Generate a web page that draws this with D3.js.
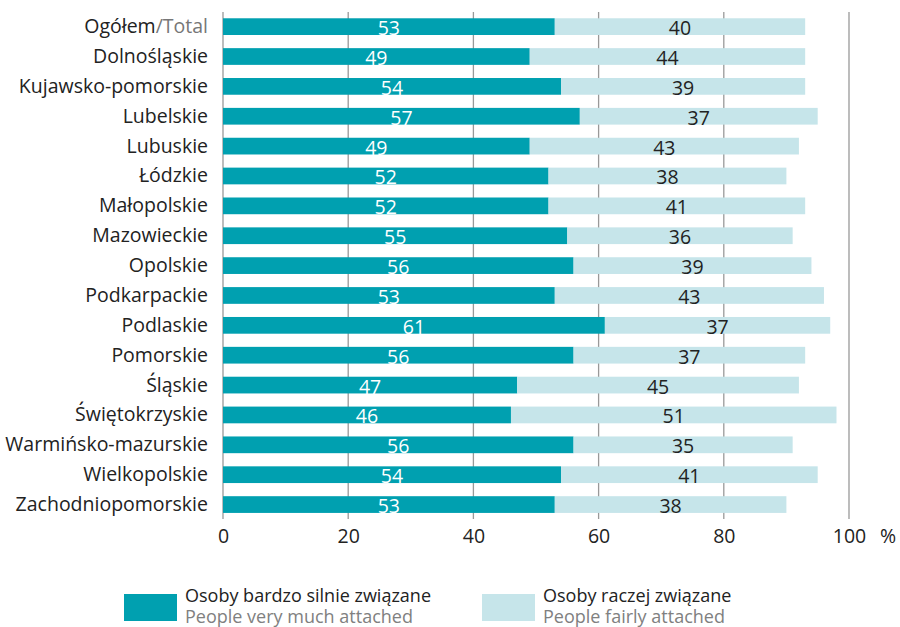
<!DOCTYPE html>
<html><head><meta charset="utf-8">
<script src="https://cdn.jsdelivr.net/npm/d3@7"></script>
<style>body{margin:0;background:#fff}svg{display:block}</style>
</head><body>
<svg id="c" width="900" height="627"></svg>
<script>
const categories = ["Ogółem/Total","Dolnośląskie","Kujawsko-pomorskie","Lubelskie","Lubuskie","Łódzkie","Małopolskie","Mazowieckie","Opolskie","Podkarpackie","Podlaskie","Pomorskie","Śląskie","Świętokrzyskie","Warmińsko-mazurskie","Wielkopolskie","Zachodniopomorskie"];
// "Osoby bardzo silnie związane / People very much attached" (%)
const veryMuch = [53,49,54,57,49,52,52,55,56,53,61,56,47,46,56,54,53];
// "Osoby raczej związane / People fairly attached" — segment lengths as drawn (%)
const fairly   = [40,44,39,38,43,38,41,36,38,43,36,37,45,52,35,41,37];
// values printed on the light segments
const fairlyLabels = [40,44,39,37,43,38,41,36,39,43,37,37,45,51,35,41,38];
const ticks = [0,20,40,60,80,100];
const seriesNames = [["Osoby bardzo silnie związane","People very much attached"],["Osoby raczej związane","People fairly attached"]];

const FONT = "'Open Sans', sans-serif";
const FS = 19.5;
const dark = "#00a0b0", light = "#c6e5ea";
const svg = d3.select("#c");
const x = d3.scaleLinear().domain([0,100]).range([223,849]);
const y = d3.scaleBand().domain(categories).range([12.6,518.6]).paddingInner(0.44).paddingOuter(0.19);

svg.append("g").selectAll("line").data(ticks).join("line")
  .attr("x1",d=>x(d)).attr("x2",d=>x(d)).attr("y1",12).attr("y2",519)
  .attr("stroke","#999").attr("stroke-width",1.3);

const rows = svg.append("g").selectAll("g").data(categories).join("g");
rows.append("rect").attr("x",x(0)).attr("y",c=>y(c)).attr("height",y.bandwidth())
  .attr("width",(c,i)=>x(veryMuch[i])-x(0)).attr("fill",dark);
rows.append("rect").attr("x",(c,i)=>x(veryMuch[i])).attr("y",c=>y(c)).attr("height",y.bandwidth())
  .attr("width",(c,i)=>x(veryMuch[i]+fairly[i])-x(veryMuch[i])).attr("fill",light);
rows.append("text").attr("x",(c,i)=>x(veryMuch[i]/2)).attr("y",c=>y(c)+y.bandwidth()/2+8.5)
  .attr("text-anchor","middle").attr("fill","#fff").attr("font-family",FONT).attr("font-size",FS)
  .text((c,i)=>veryMuch[i]);
rows.append("text").attr("x",(c,i)=>x(veryMuch[i]+fairly[i]/2)).attr("y",c=>y(c)+y.bandwidth()/2+8.5)
  .attr("text-anchor","middle").attr("fill","#222").attr("font-family",FONT).attr("font-size",FS)
  .text((c,i)=>fairlyLabels[i]);
rows.append("text").attr("x",208).attr("y",c=>y(c)+y.bandwidth()/2+6.5)
  .attr("text-anchor","end").attr("fill","#222").attr("font-family",FONT).attr("font-size",FS)
  .each(function(c){
    const t=d3.select(this);
    if(c.includes("/")){const [a,b]=c.split("/");t.append("tspan").text(a);t.append("tspan").attr("fill","#777").text("/"+b);}
    else t.text(c);
  });

const ax = d3.axisBottom(x).tickValues(ticks).tickSize(0).tickPadding(0);
const axg = svg.append("g").attr("transform","translate(0,543)").call(ax);
axg.select(".domain").remove();
axg.selectAll("text").attr("font-family",FONT).attr("font-size",FS).attr("fill","#222").attr("dy",0).attr("y",0);
svg.append("text").attr("x",888).attr("y",543).attr("text-anchor","middle").attr("font-family",FONT).attr("font-size",FS).attr("fill","#222").text("%");

const LFS = 18;
const lg = svg.append("g").selectAll("g").data(seriesNames).join("g")
  .attr("transform",(d,i)=>`translate(${i?482:124},0)`);
lg.append("rect").attr("x",0).attr("y",594).attr("width",53).attr("height",27).attr("fill",(d,i)=>i?light:dark);
lg.append("text").attr("x",61).attr("y",602).attr("font-family",FONT).attr("font-size",LFS).attr("fill","#222").text(d=>d[0]);
lg.append("text").attr("x",61).attr("y",622.5).attr("font-family",FONT).attr("font-size",LFS).attr("fill","#808080").text(d=>d[1]);
</script>
</body></html>
